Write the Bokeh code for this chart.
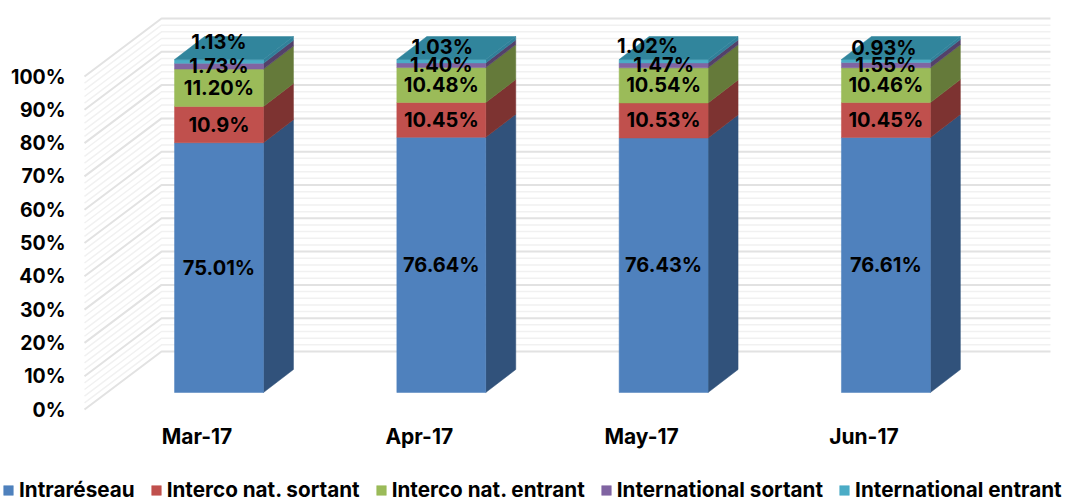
from bokeh.plotting import figure
from bokeh.models import ColumnDataSource, Legend, LegendItem, Range1d
from bokeh.core.properties import value
from bokeh.embed import file_html
from bokeh.resources import INLINE

months = ["Mar-17", "Apr-17", "May-17", "Jun-17"]
series = ["Intraréseau", "Interco nat. sortant", "Interco nat. entrant", "International sortant", "International entrant"]
intra = [75.01, 76.64, 76.43, 76.61]
sortant = [10.9, 10.45, 10.53, 10.45]
entrant = [11.20, 10.48, 10.54, 10.46]
int_sortant = [1.73, 1.40, 1.47, 1.55]
int_entrant = [1.13, 1.03, 1.02, 0.93]
labels = [
    ["75.01%", "76.64%", "76.43%", "76.61%"],
    ["10.9%", "10.45%", "10.53%", "10.45%"],
    ["11.20%", "10.48%", "10.54%", "10.46%"],
    ["1.73%", "1.40%", "1.47%", "1.55%"],
    ["1.13%", "1.03%", "1.02%", "0.93%"],
]
ticks = [0, 10, 20, 30, 40, 50, 60, 70, 80, 90, 100]
minor = [v for v in range(0, 101, 2) if v % 10]
values = [intra, sortant, entrant, int_sortant, int_entrant]

front = ["#4f81bd", "#c0504d", "#9bbb59", "#8064a2", "#4bacc6"]
side = ["#31527b", "#7d3331", "#657a3a", "#53416a", "#31809a"]
top_face = "#31859c"

W, H = 1067, 502
PX_X = 222.3            # px per category
PX_Y = 3.33             # px per percent
X0, Y0 = 218.5, 392     # first bar centre and zero line in figure px
DX, DY = 30 / PX_X, 23 / PX_Y  # bar depth
WALL_DX, WALL_DY = 77 / PX_X, 58 / PX_Y  # wall depth
WALL_X = (84 - 218.5) / PX_X
WALL_Y = (392 - 409) / PX_Y
WALL_END = (1050 - 218.5) / PX_X
BW = 0.4
FONT = "Inter"

p = figure(width=W, height=H, output_backend="svg", toolbar_location=None,
           x_range=Range1d(-X0 / PX_X, (W - X0) / PX_X),
           y_range=Range1d((Y0 - H) / PX_Y, Y0 / PX_Y),
           min_border=0, outline_line_color=None)
p.axis.visible = False
p.grid.visible = False
p.background_fill_color = "white"

# walls: minor lines first, then the major ones
for vals, colour, lw in ((minor, "#f1f1f1", 1.5), (ticks, "#e2e2e2", 2)):
    xs, ys = [], []
    for v in vals:
        y = WALL_Y + v
        xs.append([WALL_X, WALL_X + WALL_DX, WALL_END])
        ys.append([y, y + WALL_DY, y + WALL_DY])
    p.multi_line(xs, ys, line_color=colour, line_width=lw)

# stacked 3D bars
handles = []
for i, vals in enumerate(values):
    fx, fy, sx, sy = [], [], [], []
    for c, v in enumerate(vals):
        b = sum(values[k][c] for k in range(i))
        t = b + v
        l, r = c - BW / 2, c + BW / 2
        fx.append([l, r, r, l])
        fy.append([b, b, t, t])
        sx.append([r, r + DX, r + DX, r])
        sy.append([b, b + DY, t + DY, t])
    p.patches(sx, sy, fill_color=side[i], line_color=side[i], line_width=0.5)
    handles.append(p.patches(fx, fy, fill_color=front[i], line_color=front[i], line_width=0.5))

tx, ty = [], []
for c in range(len(months)):
    t = sum(values[k][c] for k in range(len(values)))
    l, r = c - BW / 2, c + BW / 2
    tx.append([l, r, r + DX, l + DX])
    ty.append([t, t, t + DY, t + DY])
p.patches(tx, ty, fill_color=top_face, line_color=top_face, line_width=0.5)

# data labels: centred on their segment, the two thin top ones are nudged by hand
nudge_x = [[0, 0, 0, 0], [0, 0, 0, 0], [0, 0, 0, 0], [0, 0, 0, 0], [0, 1, -16, -2]]
nudge_y = [[0, 0, 0, 0], [0, 0, 0, 0], [0, 0, 0, 0], [0, 0, 0, 0], [19, 14, 15, 13]]
lx, ly, lt, ox, oy = [], [], [], [], []
for i, vals in enumerate(values):
    for c, v in enumerate(vals):
        lx.append(c)
        ly.append(sum(values[k][c] for k in range(i)) + v / 2)
        lt.append(labels[i][c])
        ox.append(nudge_x[i][c])
        oy.append(-nudge_y[i][c])
p.text(x="x", y="y", text="t", x_offset="ox", y_offset="oy",
       source=ColumnDataSource(dict(x=lx, y=ly, t=lt, ox=ox, oy=oy)),
       text_align="center", text_baseline="middle", text_color="#000000",
       text_font=value(FONT), text_font_size="20px", text_font_style="bold")

# value axis labels
p.text(x=[WALL_X - 19 / PX_X] * len(ticks), y=[WALL_Y + v for v in ticks],
       text=[f"{v}%" for v in ticks], text_align="right", text_baseline="middle",
       text_color="#000000", text_font=value(FONT), text_font_size="19.5px", text_font_style="bold")

# category labels
p.text(x=[c - 22 / PX_X for c in range(len(months))], y=[(392 - 436) / PX_Y] * len(months),
       text=months, text_align="center", text_baseline="middle", text_color="#000000",
       text_font=value(FONT), text_font_size="21px", text_font_style="bold")

legend = Legend(items=[LegendItem(label=s, renderers=[h]) for s, h in zip(series, handles)],
                orientation="horizontal", location=(2, 0), border_line_color=None,
                background_fill_alpha=0, margin=0, padding=0, spacing=15,
                glyph_width=12, glyph_height=12, label_standoff=5,
                label_text_font=FONT, label_text_font_size="20.7px", label_text_font_style="bold",
                label_text_color="#000000")
p.add_layout(legend, "center")

open("out.html", "w").write(file_html(p, INLINE))
